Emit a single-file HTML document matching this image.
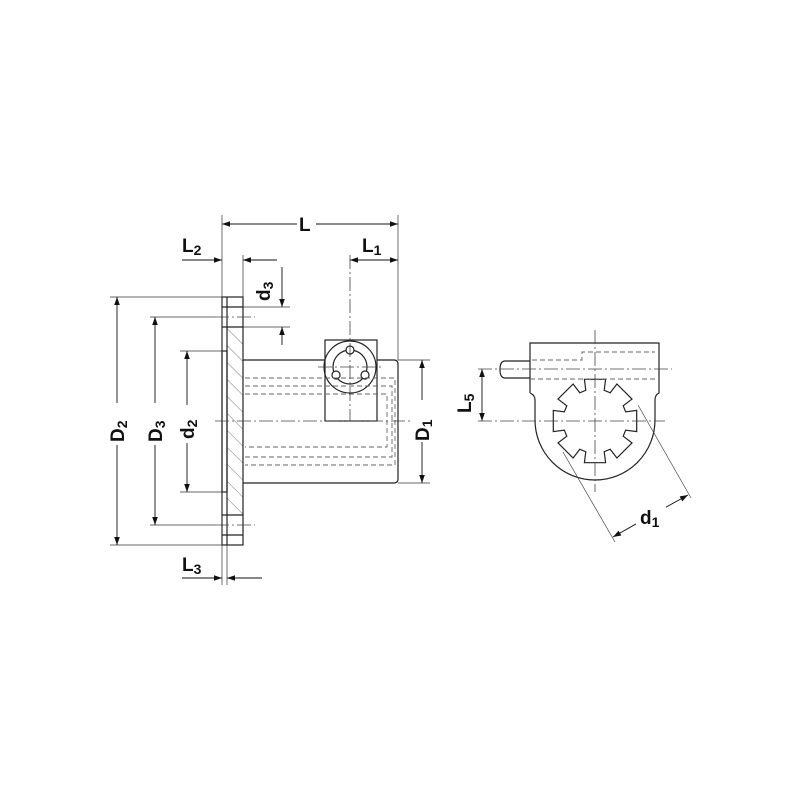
<!DOCTYPE html>
<html><head><meta charset="utf-8"><style>
html,body{margin:0;padding:0;background:#fff}
text{font-family:"Liberation Sans",sans-serif;font-weight:bold;fill:#111}
</style></head><body>
<svg id="s" width="800" height="800" viewBox="0 0 800 800" xmlns="http://www.w3.org/2000/svg">
<defs>
<marker id="a" viewBox="0 0 10 10" refX="10" refY="5" markerWidth="13" markerHeight="8" markerUnits="userSpaceOnUse" orient="auto-start-reverse"><path d="M0,1.5L10,5L0,8.5z" fill="#111"/></marker>
<pattern id="h" width="12" height="12" patternUnits="userSpaceOnUse" patternTransform="rotate(-45)"><line x1="0" y1="0" x2="0" y2="12" stroke="#555" stroke-width="0.8"/></pattern>
</defs>
<g stroke="#222" fill="none" stroke-width="1.2">
<rect x="227" y="327" width="16" height="188" fill="url(#h)" stroke="none"/>
<rect x="222" y="297" width="21" height="248"/>
<line x1="227" y1="297" x2="227" y2="545"/>
<line x1="222" y1="307" x2="243" y2="307"/><line x1="222" y1="327" x2="243" y2="327"/>
<line x1="222" y1="515" x2="243" y2="515"/><line x1="222" y1="535" x2="243" y2="535"/>
<rect x="222" y="351" width="5" height="141"/>
<path d="M243,360 H394 Q398,360 398,364 V479 Q398,483 394,483 H243"/>
<rect x="325" y="340" width="52" height="81" fill="#fff"/>
<circle cx="350" cy="367" r="26"/>
<circle cx="350" cy="367" r="17"/>
<circle cx="350" cy="350" r="4" fill="#fff"/><circle cx="336" cy="375" r="4" fill="#fff"/><circle cx="365" cy="375" r="4" fill="#fff"/>
</g>
<g stroke="#666" fill="none" stroke-width="0.9" stroke-dasharray="5,3">
<path d="M245,378 H395 V465 H245"/><path d="M245,386 H392 V457 H245"/><path d="M245,394 H387 V447 H245"/>
</g>
<g stroke="#444" fill="none" stroke-width="0.8" stroke-dasharray="14,3,2,3">
<line x1="215" y1="421" x2="430" y2="421"/>
<line x1="350" y1="255" x2="350" y2="421"/>
<line x1="318" y1="367" x2="382" y2="367"/>
<line x1="215" y1="317" x2="255" y2="317"/><line x1="215" y1="525" x2="255" y2="525"/>
</g>
<g stroke="#333" stroke-width="0.7" fill="none">
<line x1="222" y1="215" x2="222" y2="585"/><line x1="227" y1="545" x2="227" y2="585"/>
<line x1="243" y1="255" x2="243" y2="297"/><line x1="398" y1="215" x2="398" y2="360"/>
<line x1="110" y1="297" x2="222" y2="297"/><line x1="110" y1="545" x2="222" y2="545"/>
<line x1="150" y1="317" x2="215" y2="317"/><line x1="150" y1="525" x2="215" y2="525"/>
<line x1="180" y1="351" x2="222" y2="351"/><line x1="180" y1="492" x2="222" y2="492"/>
<line x1="243" y1="307" x2="290" y2="307"/><line x1="243" y1="327" x2="290" y2="327"/>
<line x1="398" y1="360" x2="430" y2="360"/><line x1="398" y1="483" x2="430" y2="483"/>
</g>
<g stroke="#111" stroke-width="0.9" fill="none" marker-end="url(#a)">
<line x1="306" y1="224" x2="222" y2="224"/><line x1="306" y1="224" x2="398" y2="224"/>
<line x1="374" y1="260" x2="350" y2="260"/><line x1="374" y1="260" x2="398" y2="260"/>
<line x1="182" y1="260" x2="222" y2="260"/><line x1="277" y1="260" x2="243" y2="260"/>
<line x1="282" y1="267" x2="282" y2="307"/><line x1="282" y1="345" x2="282" y2="327"/>
<line x1="182" y1="578" x2="222" y2="578"/><line x1="262" y1="578" x2="227" y2="578"/>
<line x1="117" y1="421" x2="117" y2="297"/><line x1="117" y1="421" x2="117" y2="545"/>
<line x1="155" y1="421" x2="155" y2="317"/><line x1="155" y1="421" x2="155" y2="525"/>
<line x1="187" y1="421" x2="187" y2="351"/><line x1="187" y1="421" x2="187" y2="492"/>
<line x1="422" y1="421" x2="422" y2="360"/><line x1="422" y1="421" x2="422" y2="483"/>
<line x1="482" y1="395" x2="482" y2="369"/><line x1="482" y1="395" x2="482" y2="421"/>
<line x1="650" y1="516" x2="613" y2="537"/><line x1="650" y1="516" x2="688" y2="495"/>
</g>
<g fill="#fff">
<rect x="297" y="212" width="19" height="22"/>
<rect x="105" y="403" width="24" height="42"/><rect x="143" y="403" width="24" height="42"/>
<rect x="175" y="405" width="24" height="38"/><rect x="410" y="400" width="24" height="42"/>
<rect x="636" y="505" width="30" height="22"/>
</g>
<text x="299" y="231" font-size="19">L</text>
<text x="362" y="252" font-size="19">L<tspan font-size="14" dy="3">1</tspan></text>
<text x="182" y="252" font-size="19">L<tspan font-size="14" dy="3">2</tspan></text>
<text x="182" y="571" font-size="19">L<tspan font-size="14" dy="3">3</tspan></text>
<text transform="translate(124,442) rotate(-90)" font-size="19">D<tspan font-size="14" dy="3">2</tspan></text>
<text transform="translate(162,442) rotate(-90)" font-size="19">D<tspan font-size="14" dy="3">3</tspan></text>
<text transform="translate(194,439) rotate(-90)" font-size="19">d<tspan font-size="14" dy="3">2</tspan></text>
<text transform="translate(429,441) rotate(-90)" font-size="19">D<tspan font-size="14" dy="3">1</tspan></text>
<text transform="translate(270,301) rotate(-90)" font-size="19">d<tspan font-size="14" dy="3">3</tspan></text>
<text transform="translate(471,413) rotate(-90)" font-size="19">L<tspan font-size="14" dy="3">5</tspan></text>
<text x="640" y="524" font-size="19">d<tspan font-size="14" dy="3">1</tspan></text>
<g stroke="#222" fill="none" stroke-width="1.2">
<path d="M530,393 V343 H659 V393 Q655,395 655,400 V420 A60,60 0 0 1 535,420 V400 Q535,395 530,393"/>
<path d="M530,361 H505 Q500,361 500,369.5 Q500,378 505,378 H530"/>
<path id="sp" d=""/>
</g>
<g stroke="#666" fill="none" stroke-width="0.9" stroke-dasharray="5,3">
<path d="M532,360 H582 V352 H655"/><line x1="530" y1="379" x2="655" y2="379"/>
</g>
<g stroke="#444" fill="none" stroke-width="0.8" stroke-dasharray="14,3,2,3">
<line x1="478" y1="369" x2="672" y2="369"/><line x1="478" y1="421" x2="665" y2="421"/>
<line x1="595" y1="330" x2="595" y2="492"/>
</g>
<g stroke="#444" stroke-width="0.7">
<line x1="563" y1="452" x2="615" y2="542"/><line x1="638" y1="405" x2="691" y2="498"/>
</g>
</svg>
<script>
(function(){var cx=595,cy=421,R=43,r=32,n=8,d="";
for(var i=0;i<n;i++){var a=-Math.PI/2+i*2*Math.PI/n;
var pts=[[r,a-0.29],[R,a-0.25],[R,a+0.25],[r,a+0.29]];
pts.forEach(function(p,j){var x=cx+p[0]*Math.cos(p[1]),y=cy+p[0]*Math.sin(p[1]);
d+=(i==0&&j==0?"M":"L")+x.toFixed(1)+","+y.toFixed(1);});}
document.getElementById("sp").setAttribute("d",d+"Z");})();
</script>
</body></html>
